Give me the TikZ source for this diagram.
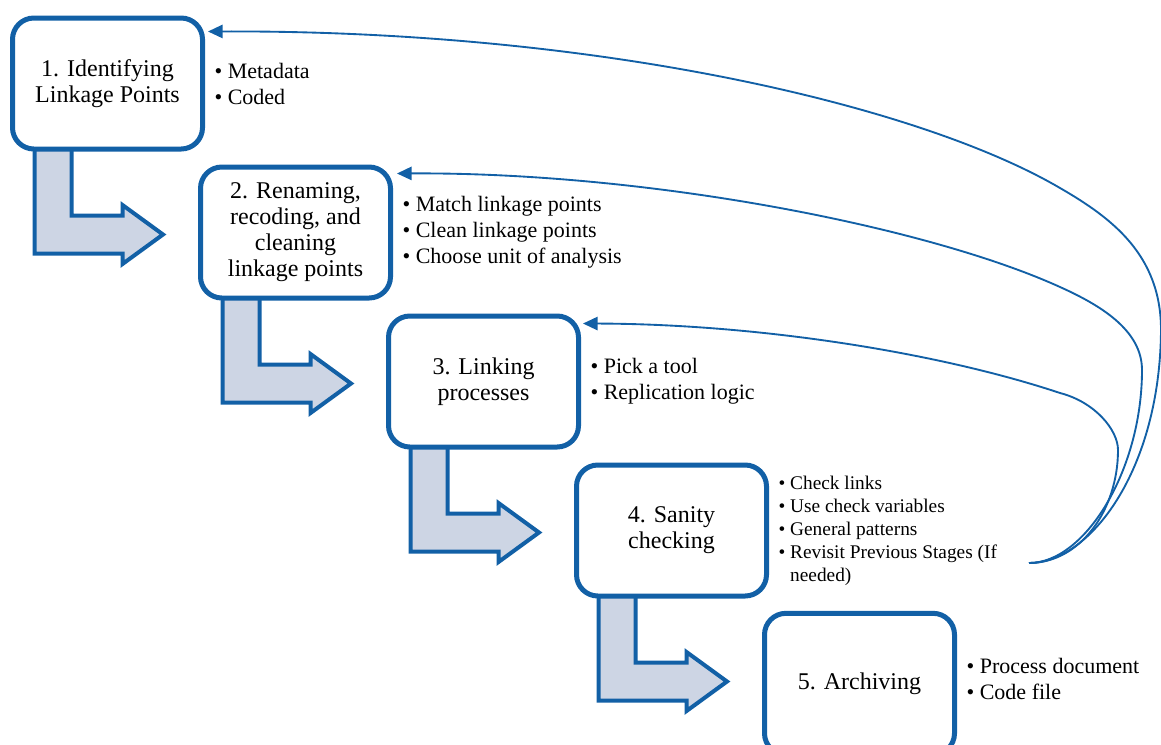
\documentclass[tikz,border=0pt]{standalone}
\usepackage{fontspec}
\setmainfont{Liberation Serif}
\usetikzlibrary{positioning,arrows.meta,backgrounds}
\definecolor{stageblue}{RGB}{18,96,166}
\definecolor{stepfill}{RGB}{205,213,228}

\begin{document}
\begin{tikzpicture}[x=0.75pt,y=-0.75pt,
    stage/.style={draw=stageblue, line width=3.75pt, rounded corners=16pt, fill=white,
        minimum width=142.5pt, minimum height=98.25pt, align=center, inner sep=0pt,
        font=\fontsize{18}{19.5}\selectfont},
    notes/.style={align=left, inner sep=0pt, font=\fontsize{16.5}{19.5}\selectfont},
    bentarrow/.style={draw=stageblue, line width=3pt, fill=stepfill, line join=miter},
    loopback/.style={draw=stageblue, line width=1.4pt, -{Triangle[length=11pt,width=10pt]}}]

    \useasboundingbox (0,0) rectangle (1161,744);

    % Stages
    \node[stage] (b1) at (107.5,83.5) {1. Identifying\\Linkage Points};
    \node[stage] (b2) at (295.5,232.5) {2. Renaming,\\recoding, and\\cleaning\\linkage points};
    \node[stage] (b3) at (483.5,381.5) {3. Linking\\processes};
    \node[stage] (b4) at (671.5,530.5) {4. Sanity\\checking};
    \node[stage, minimum height=106pt] (b5) at (859.5,684) {\raisebox{5pt}{5. Archiving}};

    % Bullet lists
    \node[notes, right=7pt of b1] (n1) {\textbullet\ Metadata\\\textbullet\ Coded};
    \node[notes, right=7pt of b2] (n2) {\textbullet\ Match linkage points\\\textbullet\ Clean linkage points\\\textbullet\ Choose unit of analysis};
    \node[notes, right=7pt of b3] (n3) {\textbullet\ Pick a tool\\\textbullet\ Replication logic};
    \node[notes, right=7pt of b4, font=\fontsize{14.5}{17.25}\selectfont] (n4) {\textbullet\ Check links\\\textbullet\ Use check variables\\\textbullet\ General patterns\\\textbullet\ Revisit Previous Stages (If\\\phantom{\textbullet\ }needed)};
    \node[notes, right=7pt of b5, yshift=3.75pt] (n5) {\textbullet\ Process document\\\textbullet\ Code file};

    % Step arrows
    \begin{scope}[on background layer]
        \foreach \i in {1,...,4}
            \draw[bentarrow, shift={(b\i.center)}] (-36,66) -- (-36,132) -- (15,132) -- (15,121.5)
                -- (55.5,151) -- (15,180.5) -- (15,170) -- (-73,170) -- (-73,66);
    \end{scope}

    % Revisit loops
    \coordinate (rev) at (1029,563);
    \draw[loopback] (rev) .. controls (1090,563) and (1160,470) .. (1161,330)
        .. controls (1161,255) and (1112,218) .. (1060,188)
        .. controls (920,106) and (600,30) .. ([shift={(3,16)}]b1.north east);
    \draw[loopback] (rev) .. controls (1085,563) and (1142,470) .. (1142,370)
        .. controls (1142,330) and (1100,305) .. (1060,287)
        .. controls (928,227) and (650,172) .. ([shift={(4,9)}]b2.north east);
    \draw[loopback] (rev) .. controls (1080,563) and (1118,510) .. (1118,450)
        .. controls (1118,430) and (1095,402) .. (1060,393)
        .. controls (940,353) and (760,324) .. ([shift={(2,10)}]b3.north east);
\end{tikzpicture}
\end{document}
